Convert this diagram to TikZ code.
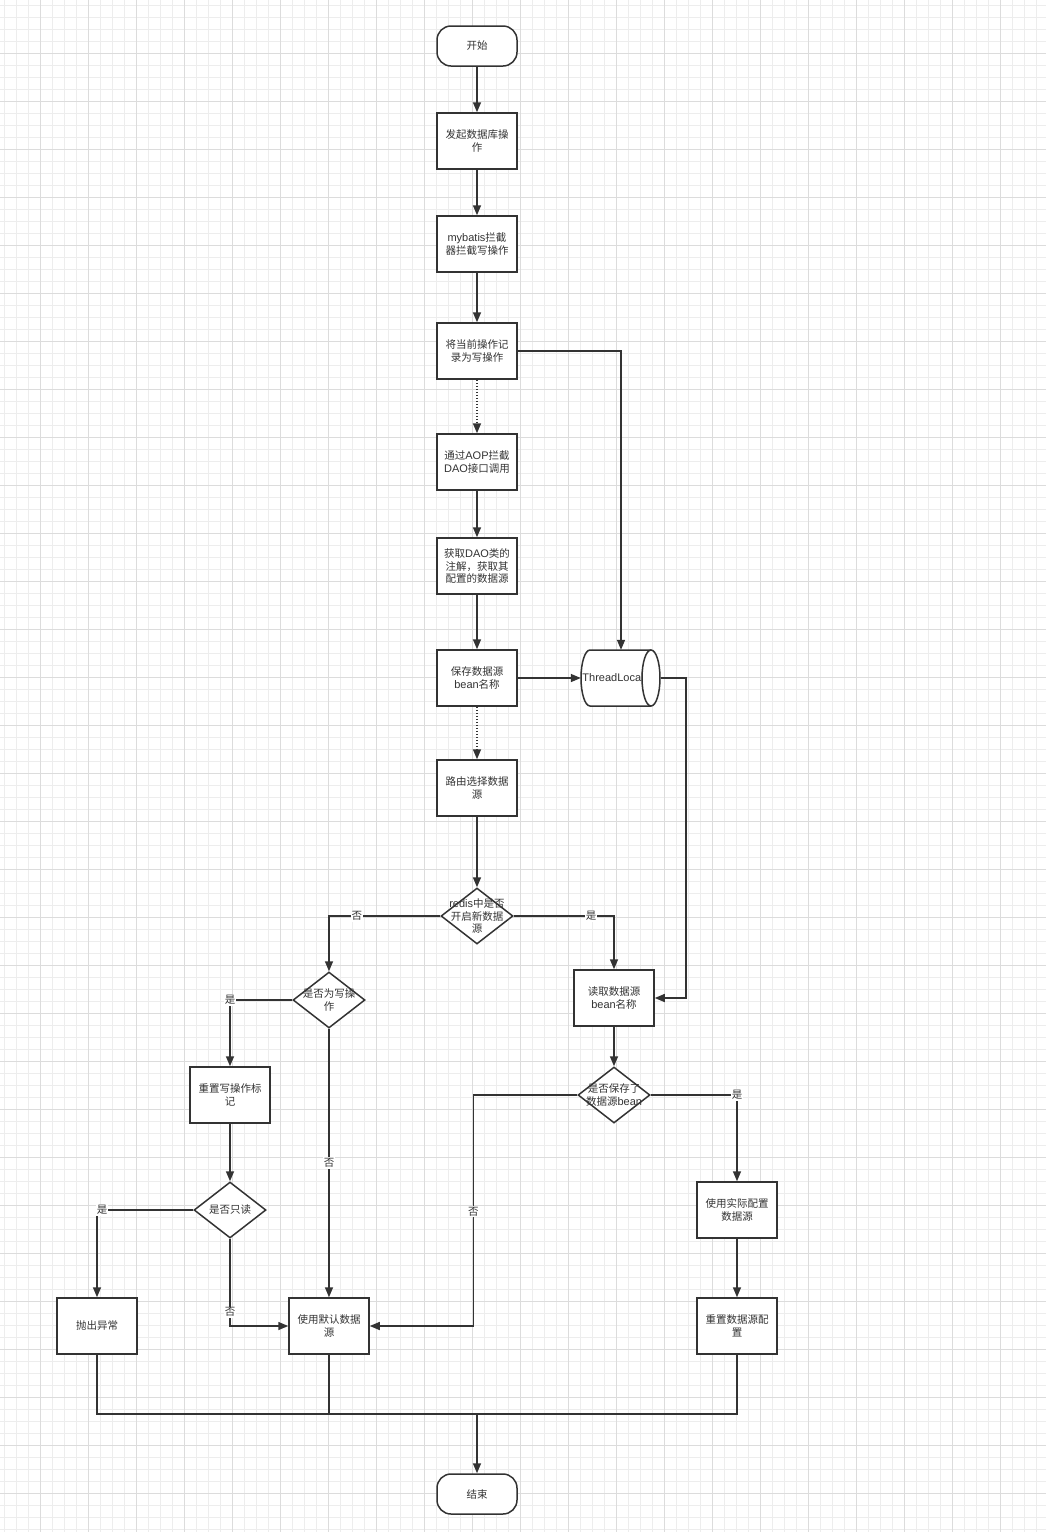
\documentclass[tikz,border=0pt]{standalone}
\usepackage{fontspec}
\setmainfont{Noto Sans CJK SC}
\newfontfamily\lat{Liberation Sans}
\usetikzlibrary{arrows.meta,shapes.geometric,calc}
\definecolor{ln}{HTML}{333333}
\definecolor{gminor}{HTML}{EDEDED}
\definecolor{gmajor}{HTML}{DCDCDC}
\newcommand{\fs}{\fontsize{10.5}{12.5}\selectfont}
\newcommand{\la}[1]{{\lat\fontsize{11}{12.5}\selectfont #1}}
\begin{document}
\begin{tikzpicture}[x=1pt,y=-1pt,
  box/.style={draw=ln, line width=1.5pt, fill=white, minimum width=80pt, minimum height=56pt, inner sep=0pt, align=center, font=\fs, text=ln},
  term/.style={draw=ln, line width=1.5pt, fill=white, minimum width=80pt, minimum height=40pt, inner sep=0pt, rounded corners=14pt, font=\fs, text=ln},
  dia/.style={diamond, draw=ln, line width=1.5pt, fill=white, minimum width=72pt, minimum height=56pt, inner sep=0pt},
  dtext/.style={align=center, font=\fs, text=ln, inner sep=0pt},
  arr/.style={draw=ln, line width=1.5pt, -{Triangle[length=10pt,width=8pt]}},
  plain/.style={draw=ln, line width=1.5pt},
  dotarr/.style={arr, dash pattern=on 1.5pt off 1.5pt},
  lbl/.style={fill=white, inner sep=1pt, font=\fs, text=ln}
]
\useasboundingbox (0,0) rectangle (1046,1532);
\fill[white] (0,0) rectangle (1046,1532);
% grid
\foreach \i in {0,...,87} {\draw[gminor, line width=1pt] ({4.7+12*\i},0) -- ({4.7+12*\i},1532);}
\foreach \i in {0,...,127} {\draw[gminor, line width=1pt] (0,{5.3+12*\i}) -- (1046,{5.3+12*\i});}
\foreach \i in {0,...,21} {\draw[gmajor, line width=1pt] ({40.7+48*\i},0) -- ({40.7+48*\i},1532);}
\foreach \i in {0,...,31} {\draw[gmajor, line width=1pt] (0,{53.3+48*\i}) -- (1046,{53.3+48*\i});}

% nodes
\node[term] (start) at (477,46) {开始};
\node[box] (b1) at (477,141) {发起数据库操\\作};
\node[box] (b2) at (477,244) {\la{mybatis}拦截\\器拦截写操作};
\node[box] (b3) at (477,351) {将当前操作记\\录为写操作};
\node[box] (b4) at (477,462) {通过\la{AOP}拦截\\\la{DAO}接口调用};
\node[box] (b5) at (477,566) {获取\la{DAO}类的\\注解，获取其\\配置的数据源};
\node[box] (b6) at (477,678) {保存数据源\\\la{bean}名称};
\node[box] (b7) at (477,788) {路由选择数据\\源};
\node[dia, label={[dtext]center:\la{redis}中是否\\开启新数据\\源}] (d1) at (477,916) {};
\node[dia, label={[dtext]center:是否为写操\\作}] (d2) at (329,1000) {};
\node[box] (rd) at (614,998) {读取数据源\\\la{bean}名称};
\node[box] (rw) at (230,1095) {重置写操作标\\记};
\node[dia, label={[dtext]center:是否保存了\\数据源\la{bean}}] (d3) at (614,1095) {};
\node[dia, label={[dtext]center:是否只读}] (d4) at (230,1210) {};
\node[box] (real) at (737,1210) {使用实际配置\\数据源};
\node[box] (ex) at (97,1326) {抛出异常};
\node[box] (def) at (329,1326) {使用默认数据\\源};
\node[box] (rst) at (737,1326) {重置数据源配\\置};
\node[term] (end) at (477,1494) {结束};

% ThreadLocal cylinder
\node[minimum width=80pt, minimum height=56pt, inner sep=0pt] (tl) at (621,678) {};
\filldraw[fill=white, draw=ln, line width=1.5pt] (651,650) -- (590,650) arc[start angle=90, end angle=270, x radius=9pt, y radius=28pt] -- (651,706);
\filldraw[fill=white, draw=ln, line width=1.5pt] (651,678) ellipse [x radius=9pt, y radius=28pt];
\node[text=ln, inner sep=0pt] (tltext) at (613,678) {\la{ThreadLocal}};

% connectors
\draw[arr] (start) -- (b1);
\draw[arr] (b1) -- (b2);
\draw[arr] (b2) -- (b3);
\draw[dotarr] (b3) -- (b4);
\draw[arr] (b4) -- (b5);
\draw[arr] (b5) -- (b6);
\draw[dotarr] (b6) -- (b7);
\draw[arr] (b7) -- (d1);
\draw[arr] (b3.east) -| (tl.north);
\draw[arr] (b6.east) -- (tl.west);
\draw[arr] (tl.east) -- ++(25,0) |- (rd.east);
\draw[arr] (d1.west) -| node[pos=0.375, lbl] {否} (d2.north);
\draw[arr] (d1.east) -| node[pos=0.386, lbl] {是} (rd.north);
\draw[arr] (d2.west) -| node[pos=0.5, lbl] {是} (rw.north);
\draw[arr] (d2.south) -- node[pos=0.5, lbl] {否} (def.north);
\draw[arr] (rw) -- (d4);
\draw[arr] (d4.west) -| node[pos=0.474, lbl] {是} (ex.north);
\draw[arr] (d4.south) |- node[pos=0.42, lbl] {否} (def.west);
\draw[arr] (rd) -- (d3);
\draw[arr] (d3.west) -- ++(-104,0) |- node[pos=0.253, lbl] {否} (def.east);
\draw[arr] (d3.east) -| node[pos=0.5, lbl] {是} (real.north);
\draw[arr] (real) -- (rst);
\coordinate (merge) at (477,1414);
\draw[plain] (ex.south) |- (merge);
\draw[plain] (def.south) |- (merge);
\draw[plain] (rst.south) |- (merge);
\draw[arr] (merge) -- (end.north);
\end{tikzpicture}
\end{document}
